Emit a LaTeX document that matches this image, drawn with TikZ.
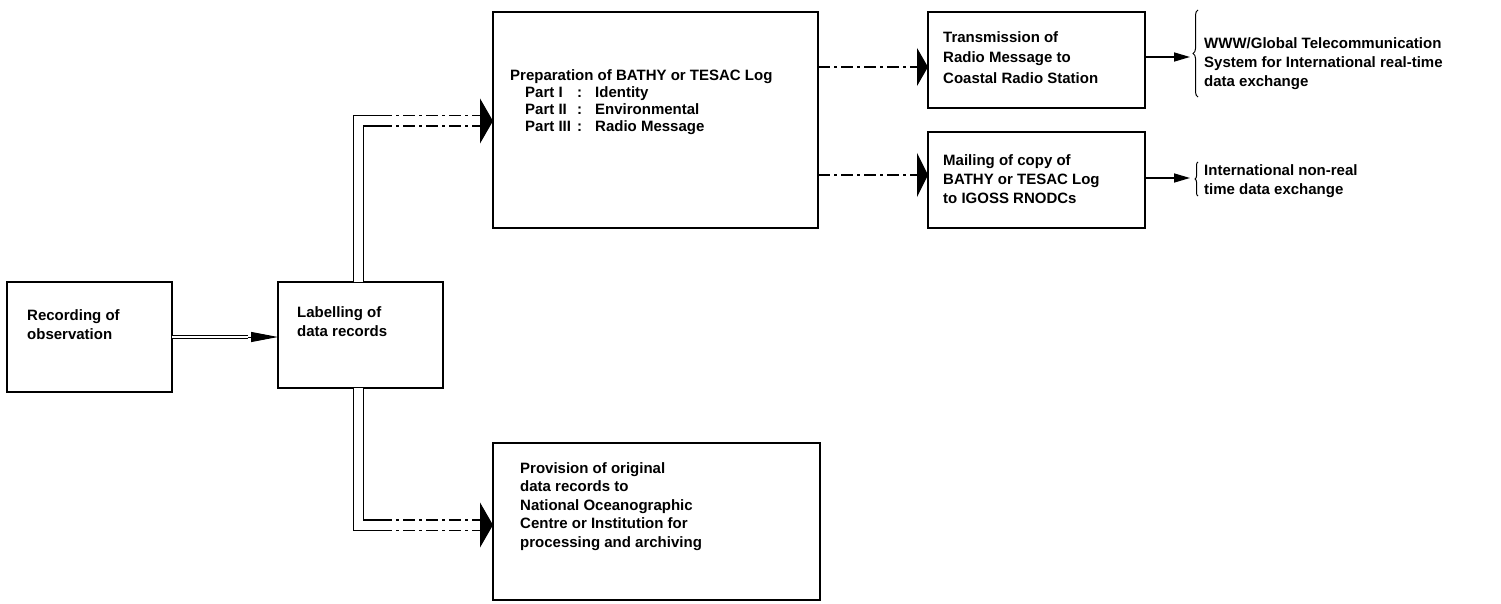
\documentclass[tikz,border=0pt]{standalone}
\usepackage{fontspec}
\setmainfont{Liberation Sans}
\usetikzlibrary{arrows.meta,decorations.pathreplacing}
\begin{document}
\begin{tikzpicture}[x=1pt,y=-1pt,
    box/.style={draw,line width=1.6pt,anchor=north west,inner sep=0pt,outer sep=0pt},
    txt/.style={anchor=north west,inner sep=0pt,align=left,font=\fontsize{15}{19}\selectfont\bfseries},
    dbl/.style={draw,line width=1.2pt,double distance=9pt},
    gappy/.style={dash pattern=on 12pt off 4pt on 3pt off 4pt},
    bigtip/.style={line width=1.2pt,-{Triangle[length=13pt,width=45pt]}},
    smalltip/.style={line width=1.6pt,-{Triangle[length=16pt,width=9pt]}}]
    \useasboundingbox (0,0) rectangle (1501,604);
    \node[box,minimum width=165pt,minimum height=110pt] (rec) at (7,282) {};
    \node[box,minimum width=165pt,minimum height=106pt] (lab) at (278,282) {};
    \node[box,minimum width=325pt,minimum height=216pt] (prep) at (493,12) {};
    \node[box,minimum width=217pt,minimum height=96pt] (trans) at (928,12) {};
    \node[box,minimum width=217pt,minimum height=96pt] (mail) at (928,132) {};
    \node[box,minimum width=327pt,minimum height=157pt] (prov) at (493,443) {};
    \node[txt] (rec-t) at (27,309) {Recording of\\observation};
    \node[txt] (lab-t) at (297,306) {Labelling of\\data records};
    \node[txt,font=\fontsize{15}{17}\selectfont\bfseries] (prep-t) at (510,69) {Preparation of BATHY or TESAC Log\\
        \hspace*{15pt}\makebox[52pt][l]{Part I}\makebox[18pt][l]{:}Identity\\
        \hspace*{15pt}\makebox[52pt][l]{Part II}\makebox[18pt][l]{:}Environmental\\
        \hspace*{15pt}\makebox[52pt][l]{Part III}\makebox[18pt][l]{:}Radio Message};
    \node[txt,font=\fontsize{15}{20.5}\selectfont\bfseries] (trans-t) at (943,31) {Transmission of\\Radio Message to\\Coastal Radio Station};
    \node[txt] (mail-t) at (943,154) {Mailing of copy of\\BATHY or TESAC Log\\to IGOSS RNODCs};
    \node[txt,font=\fontsize{15}{18.5}\selectfont\bfseries] (prov-t) at (520,462) {Provision of original\\data records to\\National Oceanographic\\Centre or Institution for\\processing and archiving};
    \node[txt] (www) at (1204,37) {WWW/Global Telecommunication\\System for International real-time\\data exchange};
    \node[txt] (intl) at (1204,164) {International non-real\\time data exchange};
    \coordinate (j0) at (248,337);
    \coordinate (k1) at (380,121);
    \coordinate (j1) at (480,121);
    \coordinate (k3) at (380,525);
    \coordinate (j3) at (480,525);
    \coordinate (j2) at ([yshift=-7pt]trans.west);
    \coordinate (j4) at ([yshift=5pt]mail.west);
    \coordinate (b1) at (1190,57);
    \coordinate (b2) at (1190,178);
    \draw[line width=1pt,double distance=2pt] (rec.east) -- (j0);
    \draw[line width=1pt,-{Triangle[length=27pt,width=10pt]}] (j0) -- (j0 -| lab.west);
    \draw[dbl] ([xshift=-2pt]lab.north) |- (k1);
    \draw[dbl,gappy] (k1) -- (j1);
    \draw[bigtip] (j1) -- (j1 -| prep.west);
    \draw[dbl] ([xshift=-2pt]lab.south) |- (k3);
    \draw[dbl,gappy] (k3) -- (j3);
    \draw[bigtip] (j3) -- (j3 -| prov.west);
    \draw[gappy,line width=1.2pt,-{Triangle[length=11pt,width=38pt]}] (j2 -| prep.east) -- (j2);
    \draw[gappy,line width=1.2pt,-{Triangle[length=11pt,width=44pt]}] (j4 -| prep.east) -- (j4);
    \draw[smalltip] (b1 -| trans.east) -- (b1);
    \draw[smalltip] (b2 -| mail.east) -- (b2);
    \draw[line width=1pt,decorate,decoration={brace,amplitude=5pt}] (1198,97) -- (1198,10);
    \draw[line width=1pt,decorate,decoration={brace,amplitude=3pt}] (1198,196) -- (1198,162);
\end{tikzpicture}
\end{document}
